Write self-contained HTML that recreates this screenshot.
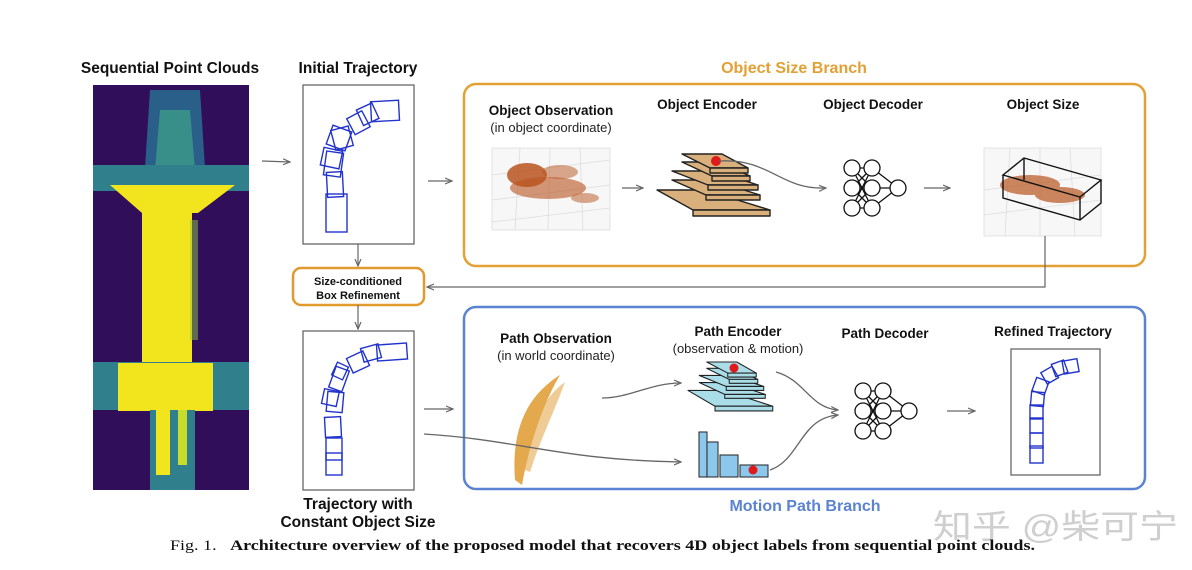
<!DOCTYPE html>
<html><head><meta charset="utf-8"><style>
html,body{margin:0;padding:0;background:#fff;}
svg{display:block;}
.b{font-family:"Liberation Sans",sans-serif;font-weight:bold;font-size:13.5px;fill:#111;text-anchor:middle;}
.t{font-size:15.5px;}
.n{font-family:"Liberation Sans",sans-serif;font-size:13px;fill:#222;text-anchor:middle;}
</style></head><body>
<svg width="1192" height="570" viewBox="0 0 1192 570" xmlns="http://www.w3.org/2000/svg">
<defs>
<marker id="ar" markerWidth="8" markerHeight="8" refX="7" refY="4" orient="auto" markerUnits="userSpaceOnUse">
<path d="M0,1 L7,4 L0,7" fill="none" stroke="#666" stroke-width="1.2"/></marker>
<g id="layers">
<g stroke="#222" stroke-width="1.4" stroke-linejoin="round">
<polygon points="657,190 705,190 770,210 693,210"/><rect x="693" y="210" width="77" height="6"/>
<polygon points="672,180 712,180 760,195 706,195"/><rect x="706" y="195" width="54" height="5"/>
<polygon points="672,171 715,171 758,185 708,185"/><rect x="708" y="185" width="50" height="5"/>
<polygon points="682,162 718,162 750,176 712,176"/><rect x="712" y="176" width="38" height="5"/>
<polygon points="682,154 722,154 748,168 710,168"/><rect x="710" y="168" width="38" height="5"/>
</g></g>
<g id="nn" stroke="#111" stroke-width="1.3" fill="#fff">
<g fill="none">
<path d="M0,0L20,0M0,0L20,20M0,0L20,40M0,20L20,0M0,20L20,20M0,20L20,40M0,40L20,0M0,40L20,20M0,40L20,40M20,0L46,20M20,20L46,20M20,40L46,20"/></g>
<circle cx="0" cy="0" r="8"/><circle cx="0" cy="20" r="8"/><circle cx="0" cy="40" r="8"/>
<circle cx="20" cy="0" r="8"/><circle cx="20" cy="20" r="8"/><circle cx="20" cy="40" r="8"/>
<circle cx="46" cy="20" r="8"/>
</g>
</defs>

<!-- point cloud -->
<rect x="93" y="85" width="156" height="405" fill="#300e5a"/>
<polygon points="150,90 200,90 205,168 145,168" fill="#2a5f8a"/>
<polygon points="160,110 190,110 195,170 155,170" fill="#3fa48a" opacity="0.7"/>
<rect x="93" y="165" width="156" height="26" fill="#2f7f8c"/>
<polygon points="110,185 235,185 198,213 142,213" fill="#f2e51e"/>
<rect x="142" y="205" width="50" height="160" fill="#f2e51e"/>
<rect x="190" y="220" width="8" height="120" fill="#8ec73d" opacity="0.5"/>
<rect x="93" y="362" width="156" height="48" fill="#2f7f8c"/>
<rect x="118" y="363" width="95" height="48" fill="#f2e51e"/>
<rect x="150" y="410" width="45" height="80" fill="#2f7f8c"/>
<rect x="156" y="410" width="14" height="65" fill="#f2e51e"/>
<rect x="178" y="410" width="9" height="55" fill="#c8dc2c"/>

<text class="b t" x="170" y="73">Sequential Point Clouds</text>
<text class="b t" x="358" y="73">Initial Trajectory</text>
<line x1="262" y1="161" x2="290" y2="162" stroke="#666" stroke-width="1.2" marker-end="url(#ar)"/>

<!-- initial trajectory -->
<rect x="303" y="85" width="111" height="159" fill="#fff" stroke="#666" stroke-width="1.3"/>
<g fill="none" stroke="#2233cc" stroke-width="1.4">
<rect x="326" y="194" width="21" height="38"/>
<rect x="327" y="172" width="16" height="25" transform="rotate(-3 335 185)"/>
<rect x="325" y="152" width="17" height="24" transform="rotate(8 333 164)"/>
<rect x="322" y="149" width="19" height="18" transform="rotate(12 331 158)"/>
<rect x="329" y="128" width="20" height="20" transform="rotate(20 339 138)"/>
<rect x="333" y="128" width="18" height="20" transform="rotate(-15 342 138)"/>
<rect x="350" y="114" width="17" height="18" transform="rotate(-28 358 123)"/>
<rect x="359" y="106" width="17" height="17" transform="rotate(-25 367 114)"/>
<rect x="371" y="101" width="28" height="20" transform="rotate(-3 385 111)"/>
</g>
<line x1="358" y1="244" x2="358" y2="266" stroke="#666" stroke-width="1.2" marker-end="url(#ar)"/>
<rect x="293" y="268" width="131" height="37" rx="8" fill="#fff" stroke="#e09a2e" stroke-width="2.5"/>
<text class="b" x="358" y="285" style="font-size:11px">Size-conditioned</text>
<text class="b" x="358" y="299" style="font-size:11px">Box Refinement</text>
<line x1="358" y1="305" x2="358" y2="329" stroke="#666" stroke-width="1.2" marker-end="url(#ar)"/>

<!-- constant size traj -->
<rect x="303" y="331" width="111" height="159" fill="#fff" stroke="#666" stroke-width="1.3"/>
<g fill="none" stroke="#2233cc" stroke-width="1.4">
<rect x="326" y="453" width="16" height="22"/>
<rect x="326" y="438" width="16" height="22"/>
<rect x="325" y="417" width="16" height="20" transform="rotate(-3 333 427)"/>
<rect x="327" y="392" width="16" height="20" transform="rotate(5 335 402)"/>
<rect x="323" y="390" width="15" height="15" transform="rotate(12 330 397)"/>
<rect x="332" y="368" width="14" height="22" transform="rotate(20 339 379)"/>
<rect x="334" y="364" width="12" height="14" transform="rotate(25 340 371)"/>
<rect x="349" y="354" width="18" height="16" transform="rotate(-25 358 362)"/>
<rect x="362" y="346" width="18" height="14" transform="rotate(-15 371 353)"/>
<rect x="377" y="344" width="30" height="16" transform="rotate(-4 392 352)"/>
</g>
<text class="b t" x="358" y="509">Trajectory with</text>
<text class="b t" x="358" y="527">Constant Object Size</text>

<!-- object size branch -->
<text class="b" x="794" y="73" style="fill:#e3a033;font-size:16px">Object Size Branch</text>
<rect x="464" y="84" width="681" height="182" rx="12" fill="none" stroke="#e3a033" stroke-width="2.5"/>
<line x1="428" y1="181" x2="452" y2="181" stroke="#666" stroke-width="1.2" marker-end="url(#ar)"/>
<text class="b" x="551" y="115">Object Observation</text>
<text class="n" x="551" y="132">(in object coordinate)</text>
<text class="b" x="707" y="109">Object Encoder</text>
<text class="b" x="873" y="109">Object Decoder</text>
<text class="b" x="1043" y="109">Object Size</text>
<g stroke="#ddd" stroke-width="0.8">
<rect x="492" y="148" width="118" height="82" fill="#f7f7f7"/>
<path d="M492,175 L610,160 M492,200 L610,185 M492,222 L610,208 M520,148 L515,230 M550,148 L548,230 M580,148 L583,230"/>
</g>
<g fill="#b8541e">
<ellipse cx="527" cy="175" rx="20" ry="12" opacity="0.85"/>
<ellipse cx="548" cy="188" rx="38" ry="11" opacity="0.6"/>
<ellipse cx="560" cy="172" rx="18" ry="7" opacity="0.5"/>
<ellipse cx="585" cy="198" rx="14" ry="5" opacity="0.5"/>
</g>
<line x1="622" y1="188" x2="643" y2="188" stroke="#666" stroke-width="1.2" marker-end="url(#ar)"/>
<use href="#layers" fill="#d9b07c"/>
<circle cx="716" cy="161" r="5" fill="#e01a1a"/>
<path d="M719,161 C770,158 780,190 826,188" fill="none" stroke="#666" stroke-width="1.3" marker-end="url(#ar)"/>
<use href="#nn" x="852" y="168"/>
<line x1="924" y1="188" x2="950" y2="188" stroke="#666" stroke-width="1.2" marker-end="url(#ar)"/>
<g stroke="#ddd" stroke-width="0.8">
<rect x="984" y="148" width="117" height="88" fill="#f7f7f7"/>
<path d="M984,190 L1101,175 M984,215 L1101,200 M1010,148 L1005,236 M1040,148 L1040,236 M1070,148 L1075,236"/>
</g>
<g fill="#b8541e" opacity="0.7">
<ellipse cx="1030" cy="185" rx="30" ry="10"/><ellipse cx="1060" cy="195" rx="25" ry="8"/>
</g>
<g fill="none" stroke="#111" stroke-width="1.4">
<polygon points="1003,175 1024,158 1101,180 1080,197"/>
<polyline points="1003,175 1003,198 1080,220 1101,203 1101,180"/>
<line x1="1080" y1="197" x2="1080" y2="220"/>
<line x1="1024" y1="158" x2="1024" y2="180"/>
</g>
<polyline points="1045,236 1045,287 427,287" fill="none" stroke="#666" stroke-width="1.2" marker-end="url(#ar)"/>

<!-- motion path branch -->
<rect x="464" y="307" width="681" height="182" rx="12" fill="none" stroke="#5b83d1" stroke-width="2.5"/>
<text class="b" x="805" y="511" style="fill:#5b83d1;font-size:16px">Motion Path Branch</text>
<line x1="424" y1="409" x2="453" y2="409" stroke="#666" stroke-width="1.2" marker-end="url(#ar)"/>
<text class="b" x="556" y="343">Path Observation</text>
<text class="n" x="556" y="360">(in world coordinate)</text>
<text class="b" x="738" y="336">Path Encoder</text>
<text class="n" x="738" y="353">(observation &amp; motion)</text>
<text class="b" x="885" y="338">Path Decoder</text>
<text class="b" x="1053" y="336">Refined Trajectory</text>
<g fill="#e09a2e" opacity="0.85">
<path d="M515,480 C512,440 520,400 560,375 C545,400 530,440 522,485 Z"/>
<path d="M525,470 C530,430 540,400 565,382 C555,410 540,440 530,472 Z" opacity="0.6"/>
</g>
<path d="M602,398 C630,398 650,383 681,383" fill="none" stroke="#666" stroke-width="1.3" marker-end="url(#ar)"/>
<g transform="translate(688,362) scale(0.75,0.79) translate(-657,-154)"><use href="#layers" fill="#a9dde8"/></g>
<circle cx="734" cy="368" r="4.5" fill="#e01a1a"/>
<path d="M424,434 C520,440 560,460 681,462" fill="none" stroke="#666" stroke-width="1.3" marker-end="url(#ar)"/>
<g fill="#8cc8ec" stroke="#333" stroke-width="1.1">
<rect x="699" y="432" width="8" height="45"/>
<rect x="707" y="442" width="11" height="35"/>
<rect x="720" y="455" width="18" height="22"/>
<rect x="740" y="465" width="28" height="12"/>
</g>
<circle cx="753" cy="470" r="4.5" fill="#e01a1a"/>
<path d="M776,372 C805,380 810,408 838,410" fill="none" stroke="#666" stroke-width="1.3" marker-end="url(#ar)"/>
<path d="M770,470 C800,460 800,418 838,415" fill="none" stroke="#666" stroke-width="1.3" marker-end="url(#ar)"/>
<use href="#nn" x="863" y="391"/>
<line x1="947" y1="411" x2="975" y2="411" stroke="#666" stroke-width="1.2" marker-end="url(#ar)"/>
<rect x="1011" y="349" width="89" height="126" fill="#fff" stroke="#666" stroke-width="1.3"/>
<g fill="none" stroke="#2233cc" stroke-width="1.4">
<rect x="1030" y="446" width="13" height="17"/>
<rect x="1030" y="433" width="13" height="15"/>
<rect x="1030" y="418" width="13" height="15"/>
<rect x="1030" y="405" width="13" height="14"/>
<rect x="1031" y="392" width="13" height="14" transform="rotate(5 1037 399)"/>
<rect x="1034" y="379" width="13" height="14" transform="rotate(20 1040 386)"/>
<rect x="1043" y="369" width="13" height="13" transform="rotate(-30 1049 375)"/>
<rect x="1053" y="362" width="13" height="13" transform="rotate(-20 1059 368)"/>
<rect x="1063" y="360" width="15" height="13" transform="rotate(-10 1070 366)"/>
</g>

<!-- watermark -->
<text x="933" y="538" textLength="245" lengthAdjust="spacingAndGlyphs" style="font-family:'Liberation Sans','Noto Sans CJK SC',sans-serif;font-size:33px;fill:#cfcfcf">知乎 @柴可宁</text>

<!-- caption -->
<text x="170" y="550" style="font-family:'Liberation Serif',serif;font-size:15px;fill:#111" textLength="865" lengthAdjust="spacingAndGlyphs">Fig. 1.&#160;&#160;&#160;<tspan font-weight="bold">Architecture overview of the proposed model that recovers 4D object labels from sequential point clouds.</tspan></text>
</svg>
</body></html>
